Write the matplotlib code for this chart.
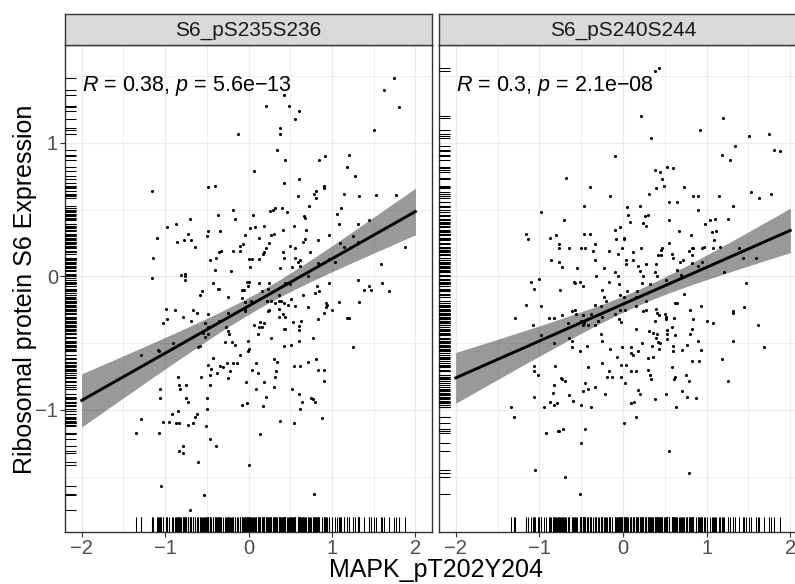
import numpy as np
import matplotlib
matplotlib.use("Agg")
import matplotlib.pyplot as plt
from matplotlib.ticker import MultipleLocator

plt.rcParams["font.family"] = ["Liberation Sans", "DejaVu Sans"]
plt.rcParams["mathtext.fontset"] = "custom"
plt.rcParams["mathtext.rm"] = "Liberation Sans"
plt.rcParams["mathtext.it"] = "Liberation Sans:italic"

# ── Data ──────────────────────────────────────────────────────────────────────

PANEL_TITLES = ["S6_pS235S236", "S6_pS240S244"]
COR_LABELS = [r"$R$ = 0.38, $p$ = 5.6e−13", r"$R$ = 0.3, $p$ = 2.1e−08"]
X_LABEL = "MAPK_pT202Y204"
Y_LABEL = "Ribosomal protein S6 Expression"
X_TICKS = [-2, -1, 0, 1, 2]
Y_TICKS = [-1, 0, 1]

# (MAPK, S6_pS235S236)
pts_235 = [
    (-0.12, 1.07), (-1.16, 0.64), (-0.48, 0.67), (-0.40, 0.68), (-0.18, 0.50),
    (-0.37, 0.46), (-0.16, 0.43), (-0.70, 0.43), (-0.98, 0.37), (-0.87, 0.39),
    (-0.34, 0.34), (-0.48, 0.34), (-1.10, 0.29), (-0.73, 0.32), (-0.50, 0.30),
    (-0.04, 0.31), (-0.77, 0.27), (-0.86, 0.26), (-0.69, 0.27), (-0.64, 0.22),
    (-0.10, 0.23), (-0.07, 0.24), (-0.18, 0.19), (-0.10, 0.19), (-0.33, 0.19),
    (-0.35, 0.18), (-1.14, 0.14), (-0.46, 0.12), (-0.39, 0.14), (-0.40, 0.05),
    (-0.21, 0.04), (-1.16, -0.01), (-0.81, 0.01), (-0.76, 0.02), (-0.76, 0.00),
    (-0.76, -0.03), (-0.42, -0.05), (-0.35, -0.09), (-0.02, -0.04), (-0.01, -0.07),
    (1.75, 1.49), (1.63, 1.40), (1.81, 1.27), (0.43, 1.36), (0.21, 1.28),
    (0.48, 1.28), (0.60, 1.24), (0.56, 1.18), (0.38, 1.11), (0.38, 1.07),
    (1.51, 1.10), (0.34, 0.95), (0.44, 0.87), (0.07, 0.79), (0.84, 0.87),
    (0.92, 0.90), (1.20, 0.91), (1.18, 0.82), (1.28, 0.75), (0.60, 0.73),
    (0.42, 0.70), (0.90, 0.68), (0.91, 0.66), (0.81, 0.64), (0.79, 0.62),
    (0.81, 0.59), (0.59, 0.60), (1.15, 0.62), (1.33, 0.60), (1.53, 0.61),
    (1.77, 0.61), (0.73, 0.53), (0.05, 0.46), (0.26, 0.49), (0.29, 0.50),
    (0.32, 0.51), (0.40, 0.51), (0.46, 0.48), (0.66, 0.45), (0.68, 0.44),
    (1.11, 0.51), (1.06, 0.47), (1.08, 0.39), (1.31, 0.39), (1.45, 0.42),
    (0.02, 0.36), (0.08, 0.37), (0.18, 0.38), (0.41, 0.35), (0.54, 0.38),
    (0.69, 0.35), (0.13, 0.29), (0.27, 0.31), (0.31, 0.32), (0.96, 0.31),
    (1.25, 0.30), (0.24, 0.25), (0.21, 0.21), (0.18, 0.18), (0.17, 0.17),
    (0.50, 0.23), (0.56, 0.21), (0.65, 0.26), (0.68, 0.28), (0.83, 0.27),
    (1.10, 0.25), (1.15, 0.22), (1.31, 0.26), (1.88, 0.22), (0.41, 0.18),
    (0.74, 0.18), (0.01, 0.13), (0.04, 0.13), (0.13, 0.13), (0.43, 0.14),
    (0.56, 0.14), (0.59, 0.11), (0.62, 0.12), (0.62, 0.08), (0.02, 0.07),
    (0.38, 0.06), (0.52, 0.07), (0.83, 0.10), (0.97, 0.13), (1.04, 0.11),
    (0.71, 0.00), (1.59, 0.09), (0.01, -0.04), (0.12, -0.05), (0.25, -0.05),
    (0.44, -0.05), (0.50, -0.06), (0.82, -0.07), (0.96, -0.05), (1.31, -0.03),
    (1.44, -0.07), (1.60, -0.05),
    (-0.56, -0.11), (-0.58, -0.14), (-0.36, -0.09), (-0.24, -0.15), (-0.08, -0.10),
    (-0.05, -0.10), (-0.08, -0.16), (-0.04, -0.19), (-0.99, -0.24), (-0.88, -0.25),
    (-0.67, -0.25), (-0.62, -0.27), (-0.98, -0.32), (-1.02, -0.35), (-0.79, -0.30),
    (-0.69, -0.33), (-0.49, -0.28), (-0.35, -0.33), (-0.25, -0.27), (-0.52, -0.35),
    (-0.49, -0.38), (-0.27, -0.38), (-0.25, -0.41), (-0.23, -0.43), (-0.54, -0.42),
    (-0.48, -0.43), (-0.52, -0.45), (-0.04, -0.24), (-0.04, -0.26), (-1.29, -0.59),
    (-1.08, -0.55), (-1.07, -0.56), (-0.90, -0.50), (-0.60, -0.53), (-0.58, -0.52),
    (-0.28, -0.49), (-0.20, -0.49), (-0.16, -0.51), (-0.01, -0.48), (0.00, -0.54),
    (-0.01, -0.56), (-0.10, -0.59), (-0.43, -0.61), (-0.49, -0.66), (-0.45, -0.69),
    (-0.34, -0.67), (-0.31, -0.68), (-0.26, -0.65), (-0.22, -0.71), (-0.25, -0.76),
    (-0.18, -0.65), (-0.14, -0.65), (-0.38, -0.72), (-0.46, -0.74), (-0.57, -0.75),
    (-0.84, -0.75), (-0.83, -0.81), (-0.82, -0.84), (-0.75, -0.81), (-0.46, -0.81),
    (-1.06, -0.84), (-1.06, -0.91), (-0.75, -0.91), (-0.73, -0.94), (-0.50, -0.91),
    (-0.50, -0.99), (-0.08, -0.96), (-0.02, -0.95), (-0.03, -0.79), (-0.84, -1.01),
    (-0.92, -1.03), (-0.64, -1.05), (-0.62, -1.03), (-1.29, -1.07), (-1.02, -1.09),
    (-0.95, -1.09), (-0.87, -1.10), (-0.83, -1.10), (-0.73, -1.11), (-0.66, -1.10),
    (-0.51, -1.12), (-1.35, -1.17), (-1.07, -1.17), (-0.46, -1.22), (-0.39, -1.27),
    (-0.79, -1.27), (-0.83, -1.31), (-0.78, -1.32), (-0.61, -1.39), (0.00, -1.41),
    (-1.05, -1.57), (-0.53, -1.64), (-0.70, -1.75),
    (0.16, -0.11), (0.23, -0.09), (0.37, -0.14), (0.65, -0.14), (0.80, -0.12),
    (0.84, -0.11), (1.39, -0.10), (1.47, -0.10), (1.69, -0.11), (0.03, -0.18),
    (0.22, -0.18), (0.27, -0.18), (0.32, -0.20), (0.36, -0.18), (0.39, -0.18),
    (0.43, -0.20), (0.47, -0.21), (0.51, -0.17), (0.56, -0.22), (0.71, -0.23),
    (0.93, -0.20), (0.94, -0.21), (0.93, -0.23), (1.08, -0.19), (1.32, -0.19),
    (0.24, -0.25), (0.23, -0.26), (0.36, -0.24), (0.90, -0.27), (1.00, -0.25),
    (0.41, -0.28), (0.44, -0.30), (0.36, -0.30), (0.06, -0.36), (0.14, -0.34),
    (0.18, -0.35), (0.13, -0.38), (0.16, -0.38), (0.11, -0.43), (0.27, -0.46),
    (0.42, -0.39), (0.44, -0.39), (0.53, -0.34), (0.63, -0.33), (0.60, -0.37),
    (0.60, -0.40), (0.60, -0.48), (0.77, -0.46), (0.83, -0.32), (1.18, -0.31),
    (1.21, -0.31), (1.25, -0.53), (0.43, -0.52), (0.51, -0.51), (0.31, -0.62),
    (0.34, -0.64), (0.09, -0.65), (0.04, -0.70), (0.11, -0.72), (0.33, -0.71),
    (0.32, -0.75), (0.54, -0.67), (0.62, -0.67), (0.71, -0.64), (0.81, -0.62),
    (0.83, -0.70), (0.91, -0.70), (0.90, -0.78), (0.19, -0.79), (0.09, -0.84),
    (0.31, -0.83), (0.52, -0.84), (0.21, -0.90), (0.17, -0.97), (0.61, -0.88),
    (0.64, -0.94), (0.62, -0.99), (0.75, -0.91), (0.77, -0.92), (0.80, -0.94),
    (0.38, -1.08), (0.55, -1.10), (0.88, -1.06), (0.14, -1.18), (0.79, -1.63),
]

# (MAPK, S6_pS240S244)
pts_240 = [
    (-0.10, 0.90), (-0.68, 0.74), (-0.39, 0.67), (-0.16, 0.60), (-0.47, 0.53),
    (-0.98, 0.48), (-0.70, 0.42), (-0.10, 0.35), (-1.16, 0.32), (-1.14, 0.28),
    (-0.87, 0.29), (-0.80, 0.31), (-0.47, 0.32), (-0.39, 0.32), (-0.08, 0.28),
    (-0.76, 0.24), (-0.34, 0.24), (-0.76, 0.21), (-0.64, 0.21), (-0.50, 0.21),
    (-0.46, 0.21), (-0.36, 0.19), (-0.17, 0.19), (-0.06, 0.17), (-0.86, 0.12),
    (-0.77, 0.11), (-0.33, 0.12), (-0.73, 0.07), (-0.55, 0.06), (-0.23, 0.06),
    (-0.09, 0.03), (-0.32, 0.00), (-0.06, 0.00), (-1.01, -0.02), (-1.10, -0.04),
    (-0.58, -0.04), (-0.57, -0.05), (-0.52, -0.04), (-0.48, -0.07), (-0.17, -0.04),
    (-1.07, -0.09), (-0.75, -0.10), (-0.25, -0.10), (-0.05, -0.06),
    (0.38, 1.54), (0.43, 1.56), (0.21, 1.20), (0.34, 1.04), (0.92, 1.10),
    (1.20, 1.19), (1.51, 1.05), (1.75, 1.07), (1.34, 0.98), (1.18, 0.91),
    (1.28, 0.87), (1.81, 0.95), (1.88, 0.94), (0.38, 0.80), (0.44, 0.78),
    (0.53, 0.82), (0.60, 0.81), (0.47, 0.73), (0.49, 0.68), (0.39, 0.66),
    (0.31, 0.62), (0.73, 0.67), (0.84, 0.60), (0.90, 0.60), (1.15, 0.60),
    (1.53, 0.63), (1.63, 0.59), (1.77, 0.62), (0.20, 0.53), (0.55, 0.56),
    (0.65, 0.56), (0.90, 0.50), (1.31, 0.53), (0.05, 0.52), (0.06, 0.46),
    (0.08, 0.41), (-0.03, 0.37), (0.26, 0.45), (0.30, 0.46), (0.24, 0.40),
    (0.27, 0.38), (0.55, 0.42), (0.98, 0.39), (1.04, 0.42), (1.10, 0.43),
    (1.26, 0.43), (1.06, 0.33), (1.11, 0.34), (0.67, 0.34), (0.81, 0.31),
    (0.01, 0.29), (0.01, 0.28), (-0.01, 0.21), (0.12, 0.18), (0.22, 0.21),
    (0.45, 0.20), (0.47, 0.21), (0.42, 0.16), (0.46, 0.16), (0.55, 0.25),
    (0.59, 0.17), (0.60, 0.14), (0.82, 0.21), (0.84, 0.21), (0.79, 0.19),
    (0.83, 0.16), (0.95, 0.21), (0.97, 0.22), (1.09, 0.27), (1.08, 0.21),
    (1.16, 0.22), (1.39, 0.21), (1.44, 0.14), (1.59, 0.14), (0.04, 0.12),
    (0.03, 0.09), (0.12, 0.12), (0.18, 0.08), (0.20, 0.04), (0.27, 0.09),
    (0.39, 0.09), (0.68, 0.11), (0.72, 0.12), (0.83, 0.10), (0.90, 0.08),
    (0.94, 0.11), (0.38, 0.03), (0.41, 0.00), (0.24, 0.00), (0.65, 0.05),
    (0.69, 0.01), (1.21, 0.03), (0.23, -0.05), (0.32, -0.06), (0.51, -0.03),
    (1.47, -0.05),
    (-1.16, -0.21), (-0.98, -0.22), (-1.29, -0.31), (-0.88, -0.31), (-0.83, -0.31),
    (-0.73, -0.29), (-0.61, -0.26), (-0.57, -0.25), (-0.56, -0.28), (-0.48, -0.29),
    (-0.34, -0.21), (-0.26, -0.22), (-0.23, -0.15), (-0.20, -0.18), (-0.38, -0.28),
    (-0.29, -0.28), (-0.25, -0.30), (-0.10, -0.28), (-0.05, -0.32), (-1.08, -0.36),
    (-0.66, -0.35), (-0.50, -0.33), (-0.47, -0.35), (-0.42, -0.36), (-0.48, -0.36),
    (-0.34, -0.36), (-0.30, -0.33), (-0.98, -0.44), (-0.65, -0.46), (-0.61, -0.48),
    (-0.83, -0.50), (-0.26, -0.43), (-0.25, -0.48), (-0.61, -0.53), (-0.52, -0.56),
    (-0.43, -0.52), (-0.16, -0.54), (-0.07, -0.60), (-1.06, -0.67), (-1.06, -0.71),
    (-1.02, -0.74), (-0.81, -0.67), (-0.74, -0.76), (-0.73, -0.77), (-0.69, -0.78),
    (-0.82, -0.81), (-0.84, -0.87), (-0.46, -0.80), (-0.42, -0.84), (-0.33, -0.83),
    (-0.42, -0.68), (-0.25, -0.65), (-0.17, -0.71), (-0.19, -0.75), (-0.13, -0.75),
    (-0.48, -0.86), (-0.21, -0.88), (-1.07, -0.90), (-0.64, -0.89), (-0.60, -0.93),
    (-0.87, -0.94), (-0.83, -0.96), (-0.79, -0.95), (-0.94, -0.98), (-1.34, -0.98),
    (-0.50, -0.96), (-0.38, -0.98), (-1.30, -1.05), (-0.92, -1.17), (-0.78, -1.16),
    (-0.77, -1.16), (-0.72, -1.14), (-0.46, -1.14), (-0.50, -1.25), (-1.05, -1.45),
    (-0.69, -1.50), (-0.52, -1.63),
    (0.05, -0.11), (0.17, -0.11), (-0.03, -0.14), (0.01, -0.15), (0.15, -0.15),
    (0.27, -0.18), (0.73, -0.13), (0.62, -0.20), (0.65, -0.20), (0.93, -0.22),
    (0.80, -0.25), (1.45, -0.23), (1.31, -0.26), (1.32, -0.27), (-0.04, -0.25),
    (0.02, -0.25), (0.16, -0.22), (0.24, -0.26), (0.27, -0.25), (0.40, -0.24),
    (0.41, -0.27), (0.43, -0.29), (0.50, -0.28), (0.51, -0.30), (0.51, -0.32),
    (0.61, -0.31), (0.84, -0.32), (1.00, -0.33), (1.08, -0.35), (1.61, -0.36),
    (-0.02, -0.34), (0.38, -0.33), (0.16, -0.39), (0.31, -0.41), (0.36, -0.42),
    (0.41, -0.43), (0.39, -0.46), (0.53, -0.40), (0.53, -0.43), (0.59, -0.38),
    (0.62, -0.44), (0.80, -0.43), (0.83, -0.39), (0.53, -0.47), (0.42, -0.49),
    (0.44, -0.50), (0.90, -0.48), (1.31, -0.48), (-0.01, -0.53), (0.23, -0.50),
    (0.35, -0.52), (0.43, -0.54), (0.09, -0.53), (0.18, -0.56), (0.10, -0.57),
    (0.12, -0.59), (0.30, -0.61), (0.36, -0.60), (0.60, -0.52), (0.60, -0.56),
    (0.71, -0.55), (0.77, -0.51), (0.93, -0.55), (0.82, -0.63), (0.91, -0.63),
    (1.18, -0.62), (1.69, -0.53), (-0.02, -0.66), (0.03, -0.66), (0.10, -0.71),
    (0.16, -0.71), (0.30, -0.70), (0.32, -0.74), (0.33, -0.77), (0.59, -0.68),
    (0.62, -0.75), (0.61, -0.77), (0.75, -0.74), (0.79, -0.78), (-0.02, -0.75),
    (0.02, -0.80), (0.18, -0.85), (0.20, -0.88), (0.09, -0.95), (0.13, -0.94),
    (0.38, -0.92), (0.52, -0.88), (0.70, -0.86), (0.76, -0.90), (0.87, -0.91),
    (0.63, -0.98), (1.26, -0.78), (0.16, -1.05), (0.01, -1.10), (0.55, -1.31),
    (0.79, -1.47),
]

# ── Layout (pixels of a 795x584 canvas) ───────────────────────────────────────

W, H = 795, 584
PANELS_PX = [(65, 367), (439, 368)]   # left, width
PANEL_TOP, PANEL_BOTTOM, STRIP_TOP = 45, 532, 14
XLIM = (-2.2, 2.2)
YLIM = (-1.914, 1.734)
FIT_RANGE = (-2.0, 2.0)
T95 = 1.968

GRID = "#EBEBEB"
BORDER = "#333333"


def fit_band(x, y, xs):
    n = len(x)
    slope, icpt = np.polyfit(x, y, 1)
    resid = y - (icpt + slope * x)
    s = np.sqrt(np.sum(resid ** 2) / (n - 2))
    sxx = np.sum((x - x.mean()) ** 2)
    se = s * np.sqrt(1.0 / n + (xs - x.mean()) ** 2 / sxx)
    fit = icpt + slope * xs
    return fit, fit - T95 * se, fit + T95 * se


fig = plt.figure(figsize=(W / 100, H / 100), dpi=100)

for k, (pts, title, label) in enumerate(zip([pts_235, pts_240], PANEL_TITLES, COR_LABELS)):
    left, width = PANELS_PX[k]
    ax = fig.add_axes([left / W, (H - PANEL_BOTTOM) / H, width / W,
                       (PANEL_BOTTOM - PANEL_TOP) / H])
    x, y = np.array(pts).T

    ax.set_xlim(*XLIM)
    ax.set_ylim(*YLIM)
    ax.set_xticks(X_TICKS)
    ax.set_yticks(Y_TICKS)
    ax.xaxis.set_minor_locator(MultipleLocator(0.5))
    ax.yaxis.set_minor_locator(MultipleLocator(0.5))
    ax.grid(which="major", color=GRID, lw=1.0, zorder=0)
    ax.grid(which="minor", color=GRID, lw=0.55, zorder=0)
    ax.set_axisbelow(True)
    for sp in ax.spines.values():
        sp.set_color(BORDER)
        sp.set_linewidth(1.0)
    ax.tick_params(which="major", length=3.6, width=0.8, color=BORDER,
                   labelsize=14.5, labelcolor="#4D4D4D", pad=1.5)
    ax.tick_params(which="minor", length=0)
    if k > 0:
        ax.tick_params(axis="y", which="both", left=False, labelleft=False)

    ax.scatter(x, y, s=5, color="black", linewidths=0, zorder=3)

    # rugs
    ax.vlines(x, 0, 0.03, transform=ax.get_xaxis_transform(), color="black",
              lw=0.75, zorder=3)
    ax.hlines(y, 0, 0.03, transform=ax.get_yaxis_transform(), color="black",
              lw=0.75, zorder=3)

    # linear fit + 95% CI
    xs = np.linspace(FIT_RANGE[0], FIT_RANGE[1], 80)
    fit, lo, hi = fit_band(x, y, xs)
    ax.fill_between(xs, lo, hi, color="black", alpha=0.4, lw=0, zorder=4)
    ax.plot(xs, fit, color="black", lw=2.1, zorder=5)

    ax.text(-2.0, 1.388, label, ha="left", va="baseline", fontsize=15.5,
            color="black", zorder=6)

    # facet strip
    sax = fig.add_axes([left / W, (H - PANEL_TOP) / H, width / W,
                        (PANEL_TOP - STRIP_TOP) / H])
    sax.set_facecolor("#D9D9D9")
    sax.set_xticks([])
    sax.set_yticks([])
    for sp in sax.spines.values():
        sp.set_color(BORDER)
        sp.set_linewidth(1.0)
    sax.text(0.5, 0.47, title, ha="center", va="center", fontsize=15,
             color="#1A1A1A", transform=sax.transAxes)

fig.text(25 / W, 1 - 289 / H, Y_LABEL, rotation=90, ha="center", va="center",
         fontsize=18, color="black")
fig.text(436 / W, 1 - 577 / H, X_LABEL, ha="center", va="baseline",
         fontsize=18, color="black")

fig.savefig("out.png", dpi=100)
